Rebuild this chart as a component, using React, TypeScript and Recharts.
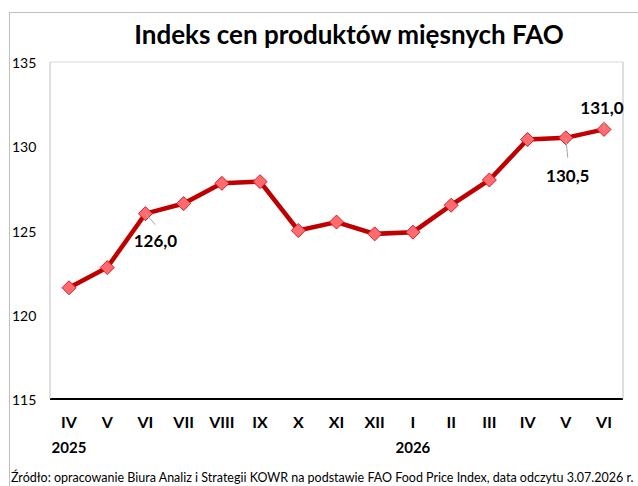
import React from 'react';
import { LineChart, Line, XAxis, YAxis, CartesianGrid, LabelList } from 'recharts';

const MONTHS = ['IV', 'V', 'VI', 'VII', 'VIII', 'IX', 'X', 'XI', 'XII', 'I', 'II', 'III', 'IV', 'V', 'VI'];
const YEARS = ['2025', '', '', '', '', '', '', '', '', '2026', '', '', '', '', ''];
const INDEX_VALUES = [121.6, 122.8, 126.0, 126.6, 127.8, 127.9, 125.0, 125.5, 124.8, 124.9, 126.5, 128.0, 130.4, 130.5, 131.0];
const Y_TICKS = [115, 120, 125, 130, 135];

const TITLE = 'Indeks cen produktów mięsnych FAO';
const SOURCE = 'Źródło: opracowanie Biura Analiz i Strategii KOWR na podstawie FAO Food Price Index, data odczytu 3.07.2026 r.';

const FONT = 'Lato, "Open Sans", sans-serif';
const LINE_RED = '#C00000';

const chartData = MONTHS.map((m, i) => ({ key: `${m}-${i}`, month: m, year: YEARS[i], value: INDEX_VALUES[i] }));

// which points get a value label, and where it sits relative to the point
const LABEL_OFFSETS: Record<number, { dx: number; dy: number; lx: number; ly: number }> = {
    2: { dx: 10, dy: 27, lx: 10, ly: 11 },
    13: { dx: 2, dy: 38, lx: 2, ly: 20 },
    14: { dx: -2, dy: -22, lx: 0, ly: -8 },
};

const fmt = (v: number) => v.toFixed(1).replace('.', ',');

const XTick = (props: any) => {
    const { x, y, index } = props;
    const year = YEARS[index];
    return (
        <g>
            <text x={x} y={y + 21} textAnchor="middle" fontFamily={FONT} fontWeight="bold" fontSize={16} fill="#000">
                {MONTHS[index]}
            </text>
            {year && (
                <text x={x} y={y + 46} textAnchor="middle" fontFamily={FONT} fontWeight="bold" fontSize={15} fill="#000">
                    {year}
                </text>
            )}
        </g>
    );
};

const YTick = (props: any) => {
    const { y, payload } = props;
    return (
        <text x={12} y={y + 6} textAnchor="start" fontFamily={FONT} fontSize={14} fill="#000">
            {payload.value}
        </text>
    );
};

const Diamond = (props: any) => {
    const { cx, cy } = props;
    if (cx == null || cy == null) return null;
    const r = 7;
    return (
        <path
            d={`M${cx},${cy - r} L${cx + r},${cy} L${cx},${cy + r} L${cx - r},${cy} Z`}
            fill="#FF6B6F"
            stroke="#D81E26"
            strokeWidth={1}
        />
    );
};

const ValueLabel = (props: any) => {
    const { x, y, value, index } = props;
    const off = LABEL_OFFSETS[index];
    if (!off) return null;
    return (
        <g>
            <line x1={x} y1={y} x2={x + off.lx} y2={y + off.ly} stroke="#A6A6A6" strokeWidth={1} />
            <text
                x={x + off.dx}
                y={y + off.dy}
                textAnchor="middle"
                dominantBaseline="central"
                fontFamily={FONT}
                fontWeight="bold"
                fontSize={17}
                fill="#000"
            >
                {fmt(value)}
            </text>
        </g>
    );
};

export default function App() {
    return (
        <div style={{ position: 'absolute', left: 0, top: 0, width: 638, height: 486, background: '#fff', overflow: 'hidden' }}>
            <div
                style={{
                    position: 'absolute',
                    left: 9,
                    top: 12,
                    width: 640,
                    height: 480,
                    borderLeft: '1px solid #BFBFBF',
                    borderTop: '1px solid #BFBFBF',
                }}
            />
            <div
                style={{
                    position: 'absolute',
                    left: 0,
                    top: 18,
                    width: 698,
                    textAlign: 'center',
                    fontFamily: FONT,
                    fontWeight: 'bold',
                    fontSize: 26,
                    color: '#000',
                    whiteSpace: 'nowrap',
                }}
            >
                {TITLE}
            </div>
            <LineChart
                width={638}
                height={486}
                data={chartData}
                margin={{ top: 62, right: 0, bottom: 0, left: 0 }}
                style={{ position: 'absolute', left: 0, top: 0 }}
            >
                <CartesianGrid vertical={false} stroke="#D9D9D9" />
                <XAxis
                    dataKey="key"
                    tick={<XTick />}
                    axisLine={{ stroke: '#000', strokeWidth: 2 }}
                    tickLine={false}
                    padding={{ left: 19, right: 19 }}
                    interval={0}
                    height={87}
                />
                <YAxis
                    yAxisId="left"
                    domain={[115, 135]}
                    ticks={Y_TICKS}
                    tick={<YTick />}
                    axisLine={{ stroke: '#BFBFBF' }}
                    tickLine={false}
                    width={50}
                    allowDataOverflow
                />
                <YAxis
                    yAxisId="right"
                    orientation="right"
                    domain={[115, 135]}
                    ticks={Y_TICKS}
                    tick={false}
                    axisLine={{ stroke: '#BFBFBF' }}
                    tickLine={false}
                    width={15}
                />
                <Line
                    yAxisId="left"
                    type="linear"
                    dataKey="value"
                    stroke={LINE_RED}
                    strokeWidth={4.5}
                    dot={<Diamond />}
                    activeDot={false}
                    isAnimationActive={false}
                >
                    <LabelList dataKey="value" content={<ValueLabel />} />
                </Line>
            </LineChart>
            <div
                style={{
                    position: 'absolute',
                    left: 11,
                    top: 470,
                    fontFamily: FONT,
                    fontSize: 12.5,
                    color: '#000',
                    whiteSpace: 'nowrap',
                }}
            >
                {SOURCE}
            </div>
        </div>
    );
}
